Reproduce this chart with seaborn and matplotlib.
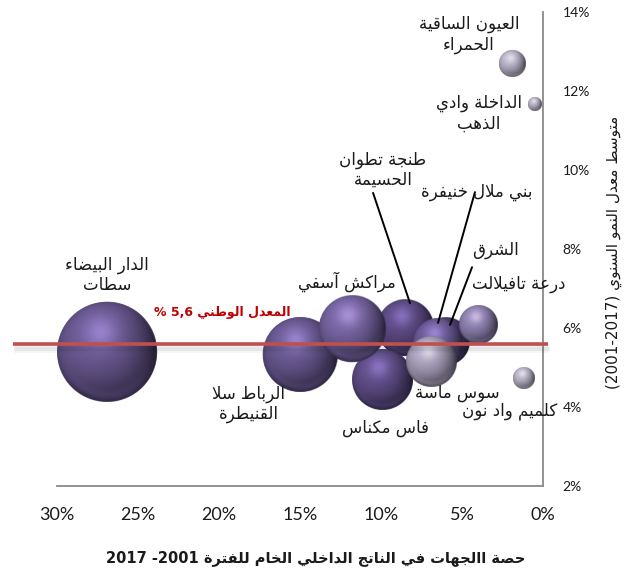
import re
import numpy as np
import pandas as pd
import matplotlib
matplotlib.use("Agg")
import matplotlib.pyplot as plt
import matplotlib.colors as mcolors
import matplotlib.patheffects as pe
import seaborn as sns

# ---------------------------------------------------------------- data
regions = ["طنجة تطوان الحسيمة", "الشرق", "فاس مكناس", "الرباط سلا القنيطرة",
           "بني ملال خنيفرة", "الدار البيضاء سطات", "مراكش آسفي", "درعة تافيلالت",
           "سوس ماسة", "كلميم واد نون", "العيون الساقية الحمراء", "الداخلة وادي الذهب"]
gdp_share = [8.5, 6.0, 9.9, 15.0, 6.5, 26.9, 11.8, 4.0, 6.9, 1.2, 1.9, 0.5]
growth = [6.0, 5.65, 4.7, 5.33, 5.62, 5.4, 5.97, 6.08, 5.16, 4.73, 12.7, 11.67]
national_avg = 5.6

label_lines = ["طنجة تطوان\nالحسيمة", "الشرق", "فاس مكناس", "الرباط سلا\nالقنيطرة",
               "بني ملال خنيفرة", "الدار البيضاء\nسطات", "مراكش آسفي", "درعة تافيلالت",
               "سوس ماسة", "كلميم واد نون", "العيون الساقية\nالحمراء", "الداخلة وادي\nالذهب"]
x_ticks = [0, 5, 10, 15, 20, 25, 30]
y_ticks = [2, 4, 6, 8, 10, 12, 14]
x_title = "حصة االجهات في الناتج الداخلي الخام للفترة 2001- 2017"
y_title = "متوسط معدل النمو السنوي (2001-2017)"
avg_label = "المعدل الوطني 5,6 %"

# ---------------------------------------------------------------- styling
bubble_colors = ["#5e4c86", "#4f3f72", "#604f8a", "#6b5b94", "#6e5c9a", "#6b5a93",
                 "#7765a3", "#9084b4", "#aca3bf", "#bcb6ca", "#bcb6ca", "#bcb6ca"]
label_pos = [(9.88, 10.0), (2.96, 7.97), (9.75, 3.47), (18.15, 4.08), (4.07, 9.44),
             (26.9, 7.34), (12.1, 7.16), (1.48, 7.11), (5.31, 4.35), (2.04, 3.9),
             (4.57, 13.43), (3.95, 11.43)]
leaders = {0: ((10.49, 9.42), (8.21, 6.63)),
           4: ((4.2, 9.44), (6.48, 6.13)),
           1: ((4.38, 7.54), (5.74, 6.08))}
S_MAX = 5184.0  # marker area (pt^2) of the largest bubble

# ---------------------------------------------------------------- Arabic shaping
DUAL = {'ب': 0xFE8F, 'ت': 0xFE95, 'ث': 0xFE99, 'ج': 0xFE9D, 'ح': 0xFEA1, 'خ': 0xFEA5,
        'س': 0xFEB1, 'ش': 0xFEB5, 'ص': 0xFEB9, 'ض': 0xFEBD, 'ط': 0xFEC1, 'ظ': 0xFEC5,
        'ع': 0xFEC9, 'غ': 0xFECD, 'ف': 0xFED1, 'ق': 0xFED5, 'ك': 0xFED9, 'ل': 0xFEDD,
        'م': 0xFEE1, 'ن': 0xFEE5, 'ه': 0xFEE9, 'ي': 0xFEF1, 'ئ': 0xFE89}
RIGHT = {'آ': 0xFE81, 'أ': 0xFE83, 'ؤ': 0xFE85, 'إ': 0xFE87, 'ا': 0xFE8D, 'ة': 0xFE93,
         'د': 0xFEA9, 'ذ': 0xFEAB, 'ر': 0xFEAD, 'ز': 0xFEAF, 'و': 0xFEED, 'ى': 0xFEEF}
NONJOIN = {'ء': 0xFE80}
LAMALEF = {'ا': 0xFEFB, 'آ': 0xFEF5, 'أ': 0xFEF7, 'إ': 0xFEF9}


def shape(text):
    out, i, n = [], 0, len(text)
    while i < n:
        ch = text[i]
        prev = text[i - 1] if i > 0 else ''
        nxt = text[i + 1] if i + 1 < n else ''
        joining = ch in DUAL or ch in RIGHT
        conn_prev = joining and prev in DUAL
        if ch == 'ل' and nxt in LAMALEF:
            out.append(chr(LAMALEF[nxt] + (1 if conn_prev else 0)))
            i += 2
            continue
        if ch in DUAL:
            conn_next = nxt in DUAL or nxt in RIGHT
            off = 3 if (conn_prev and conn_next) else 1 if conn_prev else 2 if conn_next else 0
            out.append(chr(DUAL[ch] + off))
        elif ch in RIGHT:
            out.append(chr(RIGHT[ch] + (1 if conn_prev else 0)))
        elif ch in NONJOIN:
            out.append(chr(NONJOIN[ch]))
        else:
            out.append(ch)
        i += 1
    return ''.join(out)


def rtl(text):
    lines = []
    for line in text.split('\n'):
        tokens = re.findall(r'\d+(?:[.,\-]\d+)*|.', shape(line))
        mirror = {'(': ')', ')': '('}
        lines.append(''.join(mirror.get(t, t) for t in reversed(tokens)))
    return '\n'.join(lines)


# ---------------------------------------------------------------- sphere shading
def sphere(color, r_px, n=220):
    c = np.linspace(-1, 1, n)
    u, v = np.meshgrid(c, c)
    rr = np.hypot(u, v)
    nz = np.sqrt(np.clip(1 - rr ** 2, 0, 1))
    L = np.array([-0.3, 0.45, 0.84])
    L /= np.linalg.norm(L)
    diff = np.clip(u * L[0] + v * L[1] + nz * L[2], 0, 1)
    base = np.array(mcolors.to_rgb(color))
    shade = 0.5 + 0.55 * diff
    col = base[None, None, :] * shade[..., None]
    col *= (1 - 0.45 * np.clip(u - 0.2, 0, 1) ** 2 - 0.25 * np.clip(-v - 0.3, 0, 1) ** 2)[..., None]
    hl = np.clip(base * 1.6 + 0.08, 0, 1)
    spec = 0.5 * np.exp(-((u + 0.12) ** 2 + (v - 0.4) ** 2) / (2 * 0.22 ** 2))
    col = col * (1 - spec[..., None]) + hl * spec[..., None]
    refl = 0.35 * np.exp(-((rr - 0.86) ** 2) / (2 * 0.07 ** 2)) * np.clip(-v, 0, 1)
    col = col + (base * 1.05 - col) * refl[..., None]
    alpha = np.clip((1 - rr) * r_px + 0.5, 0, 1)
    return np.dstack([np.clip(col, 0, 1), alpha])


# ---------------------------------------------------------------- figure
sns.set_theme(style="white")
plt.rcParams["font.family"] = ["Lato", "DejaVu Sans"]

df = pd.DataFrame({"region": regions, "share": gdp_share, "growth": growth})

fig = plt.figure(figsize=(6.35, 5.72), dpi=100)
ax = fig.add_axes([57 / 635, 86 / 572, 486 / 635, 474 / 572])
ax.set_xlim(30, 0)
ax.set_ylim(2, 14)

sns.scatterplot(data=df, x="share", y="growth", hue="region",
                palette=dict(zip(regions, bubble_colors)),
                size="share", sizes=(0, S_MAX), size_norm=(0, max(gdp_share)),
                linewidth=0, legend=False, ax=ax, zorder=2)

inv = ax.transData.inverted()
for i, row in df.iterrows():
    s = S_MAX * row.share / max(gdp_share)
    r_px = np.sqrt(s) / 2 * fig.dpi / 72
    cx, cy = ax.transData.transform((row.share, row.growth))
    x0, y0 = inv.transform((cx - r_px, cy - r_px))
    x1, y1 = inv.transform((cx + r_px, cy + r_px))
    ax.imshow(sphere(bubble_colors[i], r_px), extent=(x0, x1, y0, y1),
              origin="lower", aspect="auto", interpolation="antialiased",
              zorder=3 + i * 0.01)
ax.set_xlim(30, 0)
ax.set_ylim(2, 14)

# national average line with a soft shadow
ax.axhline(national_avg, xmin=-0.09, xmax=1.01, color="#c0504d", lw=2.6,
           clip_on=False, zorder=10, solid_capstyle="butt",
           path_effects=[pe.SimpleLineShadow(offset=(0.5, -2.5), shadow_color="k",
                                             alpha=0.07, linewidth=5),
                         pe.SimpleLineShadow(offset=(0.5, -4.5), shadow_color="k",
                                             alpha=0.04, linewidth=4),
                         pe.Normal()])
ax.text(19.8, 6.38, rtl(avg_label), color="#c00000", fontsize=9, fontweight="bold",
        family=["DejaVu Sans"], ha="center", va="center", zorder=12)

# region labels and leader lines
for i, (lx, ly) in enumerate(label_pos):
    ax.text(lx, ly, rtl(label_lines[i]), fontsize=12, family=["DejaVu Sans"],
            ha="center", va="center", multialignment="center", color="#1a1a1a",
            linespacing=1.15, zorder=12)
for (p0, p1) in leaders.values():
    ax.plot([p0[0], p1[0]], [p0[1], p1[1]], color="black", lw=1.4, zorder=11)

# axes
ax.set_xticks(x_ticks)
ax.set_xticklabels([f"{t}%" for t in x_ticks])
ax.yaxis.tick_right()
ax.set_yticks(y_ticks)
ax.set_yticklabels([f"{t}%" for t in y_ticks])
ax.tick_params(axis="x", length=0, pad=15, labelsize=13, colors="#1a1a1a")
ax.tick_params(axis="y", length=0, pad=14, labelsize=10, colors="#1a1a1a")
for side in ("left", "top"):
    ax.spines[side].set_visible(False)
for side in ("bottom", "right"):
    ax.spines[side].set_color("#8a8a8a")
    ax.spines[side].set_linewidth(1.3)
ax.grid(False)

ax.set_xlabel(rtl(x_title), fontsize=10.5, fontweight="bold", family=["DejaVu Sans"],
              color="#1a1a1a")
ax.xaxis.set_label_coords((316 - 57) / 486, -(550 - 486) / 474)
ax.yaxis.set_label_position("right")
ax.set_ylabel(rtl(y_title), fontsize=11, family=["DejaVu Sans"], rotation=90,
              ha="center", va="center", color="#1a1a1a")
ax.yaxis.set_label_coords((614 - 57) / 486, (486 - 252) / 474)

fig.savefig("out.png", dpi=100)
